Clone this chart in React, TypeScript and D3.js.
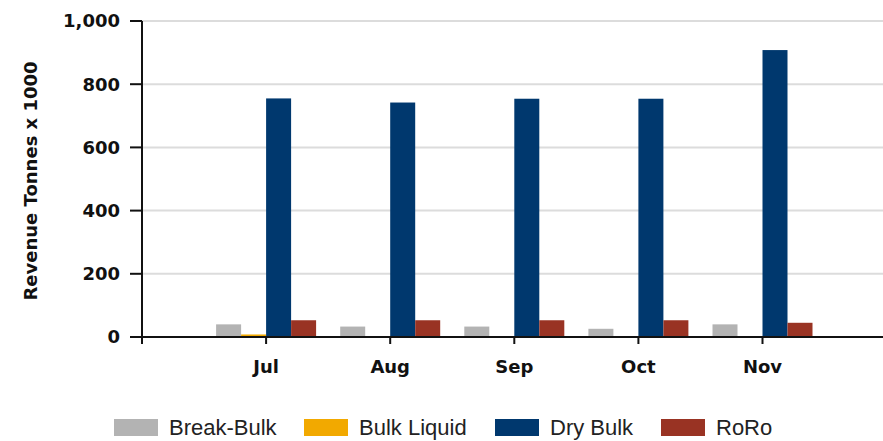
import React from "react";
import * as d3 from "d3";

const months = ["Jul", "Aug", "Sep", "Oct", "Nov"];
const seriesNames = ["Break-Bulk", "Bulk Liquid", "Dry Bulk", "RoRo"];
const breakBulk = [40, 33, 33, 26, 40];
const bulkLiquid = [8, 0, 0, 0, 0];
const dryBulk = [755, 742, 754, 754, 908];
const roro = [53, 53, 53, 53, 45];
const yTicks = [0, 200, 400, 600, 800, 1000];
const colors = ["#b3b3b3", "#f2a900", "#00386e", "#993323"];

const width = 883;
const height = 441;
const margin = { left: 142, top: 21, bottom: 104 };
const legendX = [114, 304, 495, 661];

export default function App() {
  const series = [breakBulk, bulkLiquid, dryBulk, roro];
  const y0 = height - margin.bottom;

  const xScale = d3.scaleLinear().domain([0, 6]).range([margin.left, margin.left + 6 * 124.1]);
  const yScale = d3.scaleLinear().domain([0, 1000]).range([y0, margin.top]);
  const offset = d3.scaleBand().domain(seriesNames).range([-50, 50]).padding(0);
  const fmt = d3.format(",");

  const boldFont = "'DejaVu Sans', Verdana, sans-serif";

  return (
    <svg width={width} height={height} style={{ position: "absolute", left: 0, top: 0 }}>
      <rect width={width} height={height} fill="#fff" />
      {/* grid */}
      {yTicks.slice(1).map(t => (
        <line key={t} x1={margin.left} x2={width} y1={yScale(t)} y2={yScale(t)} stroke="#dcdcdc" strokeWidth={2} />
      ))}

      {/* bars */}
      {series.map((vals, s) => (
        <g key={seriesNames[s]} fill={colors[s]}>
          {vals.map((v, i) => (
            <rect
              key={i}
              x={xScale(i + 1) + offset(seriesNames[s])}
              y={yScale(v)}
              width={offset.bandwidth()}
              height={y0 - yScale(v)}
            />
          ))}
        </g>
      ))}

      {/* y axis */}
      <line x1={margin.left} x2={margin.left} y1={margin.top} y2={y0} stroke="#111" strokeWidth={2} />
      {yTicks.map(t => (
        <g key={t} transform={`translate(0,${yScale(t)})`}>
          <line x1={margin.left - 12} x2={margin.left} stroke="#111" strokeWidth={2} />
          <text x={120} dy="0.36em" textAnchor="end" fontFamily={boldFont} fontWeight="bold" fontSize={18} fill="#111">
            {fmt(t)}
          </text>
        </g>
      ))}

      {/* x axis */}
      <line x1={margin.left} x2={width} y1={y0} y2={y0} stroke="#111" strokeWidth={2} />
      {d3.range(0, 6).map(i => (
        <line key={i} x1={xScale(i)} x2={xScale(i)} y1={y0} y2={y0 + 7} stroke="#111" strokeWidth={2} />
      ))}
      {months.map((m, i) => (
        <text key={m} x={xScale(i + 1)} y={373} textAnchor="middle" fontFamily={boldFont} fontWeight="bold" fontSize={18} fill="#111">
          {m}
        </text>
      ))}

      <text
        transform="translate(37,181) rotate(-90)"
        textAnchor="middle"
        fontFamily={boldFont}
        fontWeight="bold"
        fontSize={18}
        fill="#111"
      >
        Revenue Tonnes x 1000
      </text>

      {/* legend */}
      {seriesNames.map((name, s) => (
        <g key={name} transform={`translate(${legendX[s]},419)`}>
          <rect width={44} height={17} fill={colors[s]} />
          <text x={55} y={16} fontFamily="'Liberation Sans', Arial, sans-serif" fontSize={22} fill="#222">
            {name}
          </text>
        </g>
      ))}
    </svg>
  );
}
